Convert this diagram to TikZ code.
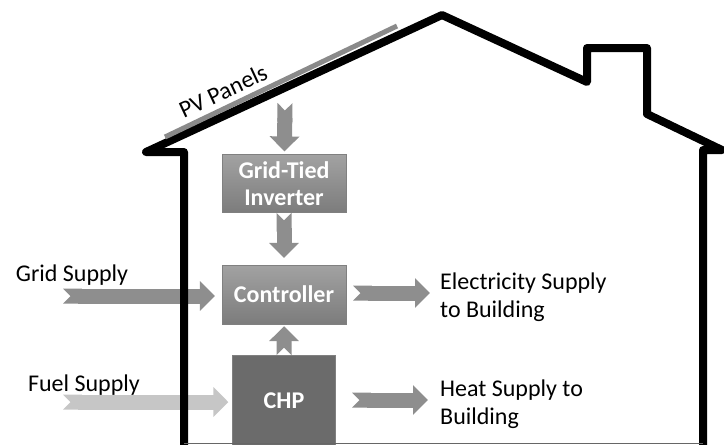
\documentclass[tikz,border=0pt]{standalone}
\usepackage{fontspec}
\setmainfont{Carlito}
\usetikzlibrary{positioning,arrows.meta}
\definecolor{boxtop}{HTML}{A2A2A2}
\definecolor{boxbot}{HTML}{7C7C7C}
\definecolor{chpgray}{HTML}{6B6B6B}
\definecolor{feedgray}{HTML}{8E8E8E}
\definecolor{fuelgray}{HTML}{C6C6C6}
\definecolor{panelgray}{HTML}{8A8A8A}
\begin{document}
\begin{tikzpicture}
[x=1pt, y=-1pt, node distance=50pt, font=\fontsize{24}{28}\selectfont]
\tikzstyle{block}=[draw=black!50, top color=boxtop, bottom color=boxbot, text=white, font=\fontsize{24}{27}\selectfont\bfseries, align=center, inner sep=0pt, minimum width=124pt, minimum height=59pt]
\tikzstyle{feed}=[line width=15pt, draw=feedgray, {Triangle Cap[reversed]}-{Triangle[width=29pt, length=15pt]}]
\tikzstyle{txt}=[inner sep=0pt, align=left]
\tikzstyle{wall}=[line width=8pt, line join=round]
\useasboundingbox (0,0) rectangle (724,445);

\node[block]	(CTRL)	at (284,294.5)	{Controller};
\node[block]	(INV)	[above=52pt of CTRL, minimum height=58pt]	{Grid-Tied\\Inverter};
\node[block]	(CHP)	[below=31pt of CTRL, minimum width=103pt, minimum height=90pt, top color=chpgray, bottom color=chpgray]	{CHP};

\node[txt]	(GRID)	at (72,275)	{Grid Supply};
\node[txt]	(FUEL)	at (84,385)	{Fuel Supply};
\node[txt]	(ELEC)	[anchor=west]	at (440,297)	{Electricity Supply\\to Building};
\node[txt]	(HEAT)	[anchor=west]	at (440,404)	{Heat Supply to\\Building};
\node[txt]	(PV)	[rotate=25]	at (223,91)	{PV Panels};

\coordinate	(PVA)	at (285,103);
\coordinate	(GA)	at (63,296);
\coordinate	(FA)	at (63,402);
\coordinate	(EA)	at (353,293);
\coordinate	(HA)	at (352,400);
\coordinate	(EB)	at (430,293);
\coordinate	(HB)	at (428,400);

\draw[feed, shorten >=3pt] (PVA) -- (INV);
\draw[feed, shorten >=7pt] (INV) -- (CTRL);
\draw[feed, shorten >=2pt] (CHP) -- (CTRL);
\draw[feed, shorten >=7pt] (GA) -- (GA -| CTRL.west);
\draw[feed, draw=fuelgray, shorten >=4pt] (FA) -- (FA -| CHP.west);
\draw[feed] (EA) -- (EB);
\draw[feed] (HA) -- (HB);

\draw[wall] (184,450) -- (184,152) -- (146,152) -- (442,15) -- (587,82) -- (587,48) -- (647,48) -- (647,114) -- (722,150) -- (703,150) -- (703,450);
\draw[black!60, line width=1pt] (184,443) -- (703,443);
\draw[panelgray, line width=5pt] (165,137) -- (397,26);
\end{tikzpicture}
\end{document}
